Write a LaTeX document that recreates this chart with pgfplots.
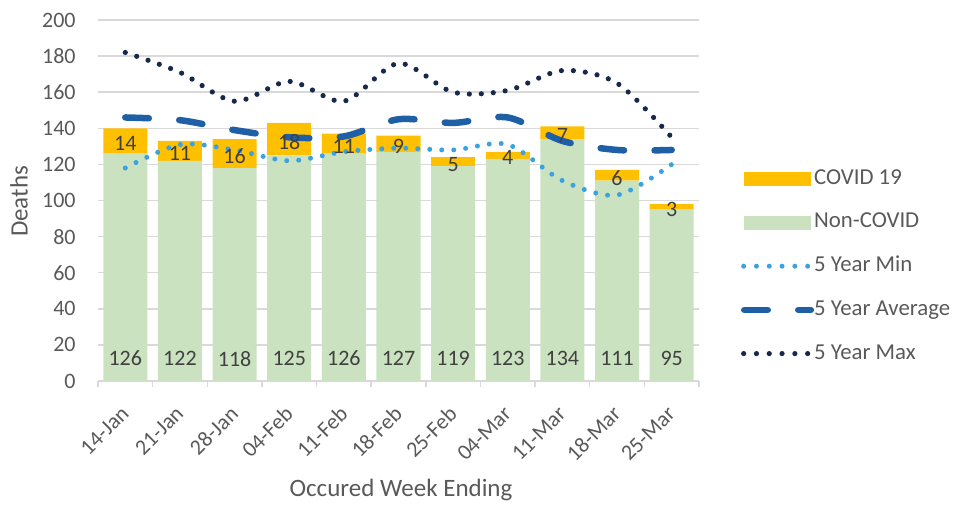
\documentclass[border=0pt]{standalone}
\usepackage{fontspec}
\setmainfont{Carlito}
\usepackage{pgfplots}
\usepackage{pgfplotstable}
\pgfplotsset{compat=1.18}
\definecolor{txt}{HTML}{595959}
\definecolor{lbl}{HTML}{404040}
\definecolor{gridc}{HTML}{D9D9D9}
\definecolor{covid}{HTML}{FFC000}
\definecolor{ncg}{HTML}{CBE2C1}
\definecolor{minc}{HTML}{3AA3DF}
\definecolor{avgc}{HTML}{1F5FA6}
\definecolor{maxc}{HTML}{17294A}
\pgfplotstableread{
x nc c ncpos cpos min avg max
0 126 14 12.4 133 118 146 182
1 122 11 12.4 127.5 131 144.5 171
2 118 16 12.4 126 128 139 155
3 125 18 12.4 134 122 135 166
4 126 11 12.4 131.5 127 135.5 155
5 127 9 12.4 131.5 129 145 176
6 119 5 12.4 121.5 128 143 160
7 123 4 12.4 125 131 146 161
8 134 7 12.4 137.5 111 133 172
9 111 6 12.4 114 103 128 165
10 95 3 12.4 96.5 120 128 135
}\data
\pgfplotsset{
  common/.style={
    width=300.5pt, height=180.5pt, scale only axis,
    xmin=-0.5, xmax=10.5, ymin=0, ymax=200,
    /pgf/number format/assume math mode=true,
  }
}
\begin{document}
\begin{tikzpicture}
\begin{axis}[common,
  ybar stacked, bar width=22pt,
  ytick={0,20,...,200},
  xtick={0,...,10},
  xticklabels={14-Jan,21-Jan,28-Jan,04-Feb,11-Feb,18-Feb,25-Feb,04-Mar,11-Mar,18-Mar,25-Mar},
  ymajorgrids, grid style={gridc, line width=0.75pt},
  axis line style={draw=none},
  major tick length=0pt,
  tick pos=left,
  tick align=outside,
  extra x ticks={-0.5,0.5,...,10.5},
  extra x tick labels={},
  extra x tick style={major tick length=3pt, tick style={gridc, line width=0.75pt}, grid=none},
  yticklabel style={font=\fontsize{11}{13}\selectfont, text=txt, anchor=east, inner sep=0pt, xshift=-11pt},
  xticklabel style={font=\fontsize{11}{13}\selectfont, text=txt, inner sep=0pt, yshift=-14.5pt, rotate=45, anchor=east},
]
\addplot[fill=ncg, draw=none] table[x=x, y=nc] {\data};
\addplot[fill=covid, draw=none] table[x=x, y=c] {\data};
\end{axis}
\begin{axis}[common, hide axis,
  legend cell align=left,
  legend style={draw=none, fill=none, at={(axis description cs:1.0699,0.5892)}, anchor=north west,
    inner sep=0pt, outer sep=0pt, row sep=11.35pt,
    font=\fontsize{11.4}{13}\selectfont, text=txt,
    nodes={inner sep=0pt, text height=8pt, text depth=2.5pt}},
]
\addplot[forget plot, minc, line width=2.5pt, line cap=round, dash pattern=on 0pt off 6pt, smooth] table[x=x, y=min] {\data};
\addplot[forget plot, avgc, line width=3.25pt, line cap=round, dash pattern=on 11.75pt off 15.25pt, smooth] table[x=x, y=avg] {\data};
\addplot[forget plot, maxc, line width=2.6pt, line cap=round, dash pattern=on 0pt off 6pt, smooth] table[x=x, y=max] {\data};
\addplot[forget plot, draw=none, mark=none, nodes near coords, point meta=explicit,
  nodes near coords style={anchor=center, font=\fontsize{11}{13}\selectfont, text=lbl, inner sep=0pt, yshift=-1.26pt}]
  table[x=x, y=cpos, meta=c] {\data};
\addplot[forget plot, draw=none, mark=none, nodes near coords, point meta=explicit,
  nodes near coords style={anchor=center, font=\fontsize{11}{13}\selectfont, text=lbl, inner sep=0pt}]
  table[x=x, y=ncpos, meta=nc] {\data};
\addlegendimage{legend image code/.code={\fill[covid] (1.5pt,-3.25pt) rectangle (34.5pt,3.25pt);}}
\addlegendentry{COVID 19}
\addlegendimage{legend image code/.code={\fill[ncg] (1.5pt,-3.25pt) rectangle (34.5pt,3.25pt);}}
\addlegendentry{Non-COVID}
\addlegendimage{legend image code/.code={\draw[minc, line width=2.5pt, line cap=round, dash pattern=on 0pt off 6.4pt] (1.3pt,0pt) -- (33.4pt,0pt);}}
\addlegendentry{5 Year Min}
\addlegendimage{legend image code/.code={\draw[avgc, line width=3.25pt, line cap=round, dash pattern=on 11.75pt off 15.25pt] (1.6pt,0pt) -- (34.9pt,0pt);}}
\addlegendentry{5 Year Average}
\addlegendimage{legend image code/.code={\draw[maxc, line width=2.6pt, line cap=round, dash pattern=on 0pt off 6.4pt] (1.3pt,0pt) -- (33.4pt,0pt);}}
\addlegendentry{5 Year Max}
\end{axis}
\node[rotate=90, font=\fontsize{12.5}{15}\selectfont, text=txt] at (-39.5pt,89.75pt) {Deaths};
\node[anchor=base, font=\fontsize{12.5}{15}\selectfont, text=txt] at (151.5pt,-57.5pt) {Occured Week Ending};
\pgfresetboundingbox
\useasboundingbox (-49pt,-61.5pt) rectangle (430.5pt,190.5pt);
\end{tikzpicture}
\end{document}
